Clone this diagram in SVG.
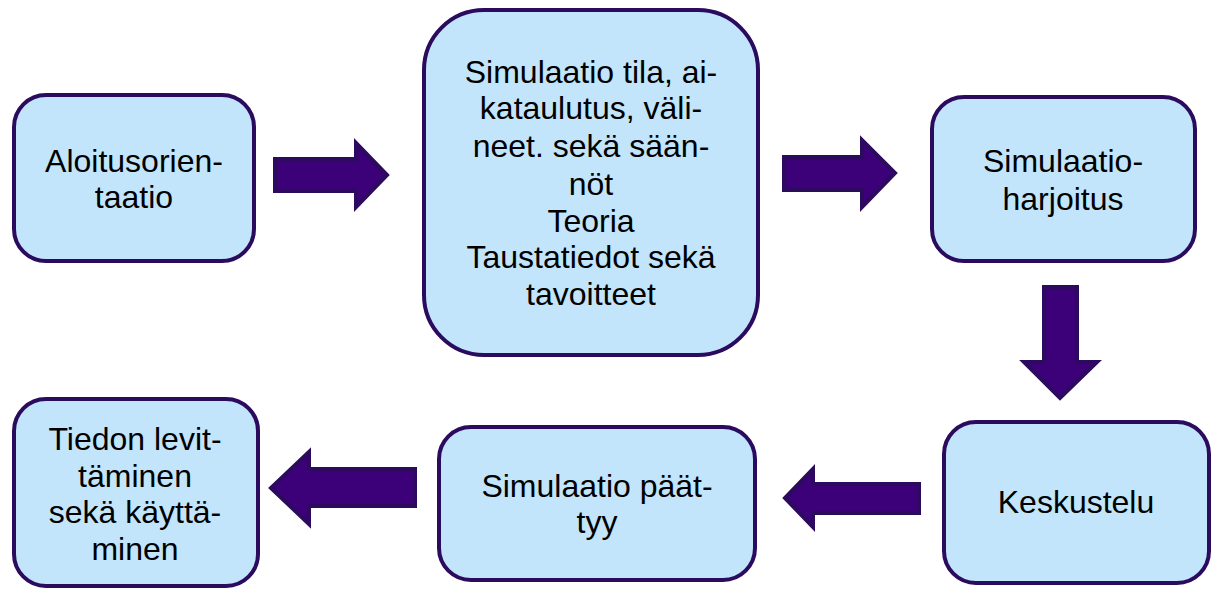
<svg xmlns="http://www.w3.org/2000/svg" width="1214" height="589" viewBox="0 0 1214 589">
<style>
.box{fill:#C2E5FC;stroke:#2A0B5E;stroke-width:4}
.arr{fill:#3C0079;stroke:#2C0A5E;stroke-width:4;stroke-linejoin:miter}
text{font-family:"Liberation Sans",Arial,sans-serif;font-size:32px;fill:#000;text-anchor:middle}
</style>
<rect width="1214" height="589" fill="#fff"/>
<g id="n1"><rect class="box" x="14" y="95" width="240" height="166" rx="32"/>
<text x="134" y="172">Aloitusorien-</text><text x="134" y="208">taatio</text></g>
<g id="n2"><rect class="box" x="424" y="10" width="334" height="345" rx="60"/>
<text x="591" y="83">Simulaatio tila, ai-</text>
<text x="591" y="119">kataulutus, väli-</text>
<text x="591" y="157">neet. sekä sään-</text>
<text x="591" y="195">nöt</text>
<text x="591" y="232">Teoria</text>
<text x="591" y="268">Taustatiedot sekä</text>
<text x="591" y="305">tavoitteet</text></g>
<g id="n3"><rect class="box" x="932" y="97" width="263" height="164" rx="32"/>
<text x="1063" y="172">Simulaatio-</text><text x="1063" y="210">harjoitus</text></g>
<g id="n4"><rect class="box" x="944" y="422" width="265" height="161" rx="32"/>
<text x="1076" y="513">Keskustelu</text></g>
<g id="n5"><rect class="box" x="439" y="427" width="316" height="153" rx="32"/>
<text x="597" y="497">Simulaatio päät-</text><text x="597" y="533">tyy</text></g>
<g id="n6"><rect class="box" x="14" y="399" width="244" height="187" rx="32"/>
<text x="135" y="450">Tiedon levit-</text><text x="135" y="487">täminen</text><text x="135" y="523">sekä käyttä-</text><text x="135" y="560">minen</text></g>
<g id="connectors">
<polygon class="arr" points="275,159 356,159 356,143 387,175 356,207 356,191 275,191"/>
<polygon class="arr" points="784,157 862,157 862,140 895,173 862,207 862,190 784,190"/>
<polygon class="arr" points="1044,287 1077,287 1077,362 1097,362 1060,398 1024,362 1044,362"/>
<polygon class="arr" points="919,484 813,484 813,469 785,498 813,527 813,513 919,513"/>
<polygon class="arr" points="415,469 309,469 309,452 271,488 309,524 309,506 415,506"/>
</g>
</svg>
